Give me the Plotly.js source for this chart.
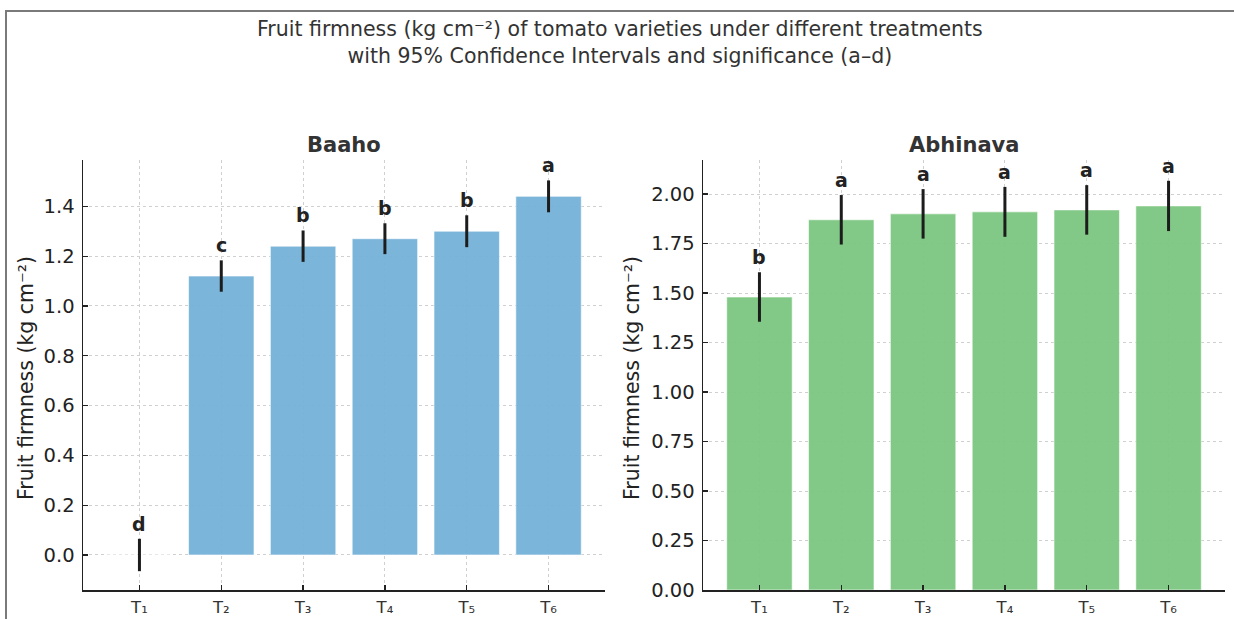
<!DOCTYPE html>
<html>
<head>
<meta charset="utf-8">
<script src="https://cdn.plot.ly/plotly-3.0.1.min.js"></script>
<style>
  html, body { margin: 0; padding: 0; background: #fff; }
  #wrap { position: relative; width: 1234px; height: 619px; overflow: hidden; }
  #chart { position: absolute; left: 0; top: 0; width: 1234px; height: 619px; }
  #frame { position: absolute; left: 5px; top: 10px; width: 1240px; height: 620px;
           border-left: 2px solid #7a7a7a; border-top: 2px solid #7a7a7a; pointer-events: none; }
</style>
</head>
<body>
<div id="wrap"><div id="chart"></div><div id="frame"></div></div>
<script>
// ---- data ----
const categories = ['T\u2081', 'T\u2082', 'T\u2083', 'T\u2084', 'T\u2085', 'T\u2086'];
const varieties = ['Baaho', 'Abhinava'];
const baahoMean = [0.00, 1.12, 1.24, 1.27, 1.30, 1.44];
const baahoCI = [0.065, 0.063, 0.063, 0.062, 0.064, 0.064];
const baahoLetters = ['d', 'c', 'b', 'b', 'b', 'a'];
const abhinavaMean = [1.48, 1.87, 1.90, 1.91, 1.92, 1.94];
const abhinavaCI = [0.125, 0.125, 0.125, 0.126, 0.125, 0.127];
const abhinavaLetters = ['b', 'a', 'a', 'a', 'a', 'a'];

const FONT = 'DejaVu Sans, Verdana, sans-serif';
const W = 1234, H = 619;
const px = v => v / W;
const py = v => 1 - v / H;

function barTrace(means, ci, color, xa, ya) {
  return {
    type: 'bar', x: categories, y: means, xaxis: xa, yaxis: ya,
    width: 0.8,
    marker: { color: color, line: { color: 'rgba(255,255,255,0.6)', width: 1 } },
    opacity: 0.95,
    error_y: { type: 'data', array: ci, visible: true, color: '#111', thickness: 3, width: 0 },
    hoverinfo: 'x+y', showlegend: false
  };
}

const traces = [
  barTrace(baahoMean, baahoCI, '#76b2d9', 'x', 'y'),
  barTrace(abhinavaMean, abhinavaCI, '#7cc680', 'x2', 'y2')
];

const annotations = [];
function addLetters(means, ci, letters, xa, ya) {
  letters.forEach((l, i) => {
    annotations.push({
      x: categories[i], y: means[i] + ci[i], xref: xa, yref: ya,
      text: '<b>' + l + '</b>', showarrow: false, yanchor: 'bottom', xanchor: 'center',
      yshift: 2, font: { family: FONT, size: 19, color: '#222' }
    });
  });
}
addLetters(baahoMean, baahoCI, baahoLetters, 'x', 'y');
addLetters(abhinavaMean, abhinavaCI, abhinavaLetters, 'x2', 'y2');

// main title
annotations.push({
  text: 'Fruit firmness (kg cm\u207B\u00B2) of tomato varieties under different treatments<br>with 95% Confidence Intervals and significance (a\u2013d)',
  xref: 'paper', yref: 'paper', x: px(620), y: py(43), xanchor: 'center', yanchor: 'middle',
  showarrow: false, align: 'center', font: { family: FONT, size: 20.5, color: '#333' }
});

// panel titles
const dom1 = [px(83), px(605)], dom2 = [px(703), px(1225)];
[[varieties[0], dom1], [varieties[1], dom2]].forEach(([t, d]) => {
  annotations.push({
    text: '<b>' + t + '</b>', xref: 'paper', yref: 'paper',
    x: (d[0] + d[1]) / 2, y: py(145), xanchor: 'center', yanchor: 'middle',
    showarrow: false, font: { family: FONT, size: 21, color: '#333' }
  });
});
// y-axis titles
[[26], [632]].forEach(([cx]) => {
  annotations.push({
    text: 'Fruit firmness (kg cm\u207B\u00B2)', xref: 'paper', yref: 'paper',
    x: px(cx), y: py(378), xanchor: 'center', yanchor: 'middle', textangle: -90,
    showarrow: false, font: { family: FONT, size: 20.5, color: '#222' }
  });
});

const ydom = [py(590), py(160)];
function xAxis(domain, anchor) {
  return {
    domain: domain, anchor: anchor, range: [-0.69, 5.69], type: 'category',
    showline: true, linecolor: '#222', linewidth: 1.5, mirror: false,
    ticks: 'inside', ticklen: 5, tickwidth: 1.2, tickcolor: '#222',
    showgrid: true, gridcolor: '#d0d0d0', gridwidth: 1, griddash: '3px,3px',
    tickfont: { family: FONT, size: 16.5, color: '#333' }, ticklabelstandoff: 2,
    zeroline: false, fixedrange: true
  };
}
function yAxis(anchor, range, dtick, fmt) {
  return {
    domain: ydom, anchor: anchor, range: range, dtick: dtick, tick0: 0, tickformat: fmt,
    showline: true, linecolor: '#222', linewidth: 1.5, mirror: false,
    ticks: 'inside', ticklen: 5, tickwidth: 1.2, tickcolor: '#222',
    showgrid: true, gridcolor: '#d0d0d0', gridwidth: 1, griddash: '3px,3px',
    tickfont: { family: FONT, size: 19.5, color: '#222' }, ticklabelstandoff: 3,
    zeroline: false, fixedrange: true
  };
}

const layout = {
  width: W, height: H,
  margin: { l: 0, r: 0, t: 0, b: 0 },
  paper_bgcolor: '#fff', plot_bgcolor: '#fff',
  xaxis: xAxis(dom1, 'y'),
  yaxis: yAxis('x', [-0.1406, 1.586], 0.2, '.1f'),
  xaxis2: xAxis(dom2, 'y2'),
  yaxis2: yAxis('x2', [0, 2.172], 0.25, '.2f'),
  annotations: annotations,
  bargap: 0.2,
  showlegend: false
};

Plotly.newPlot('chart', traces, layout, { displayModeBar: false, staticPlot: true });
</script>
</body>
</html>
